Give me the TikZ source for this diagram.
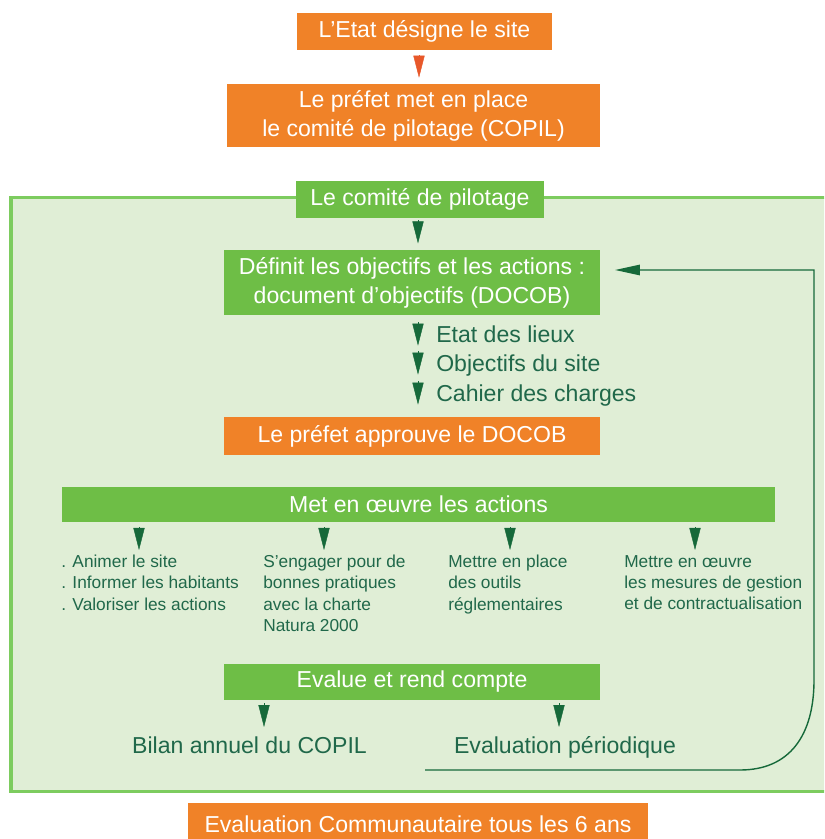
\documentclass[tikz,border=0pt]{standalone}
\usepackage{fontspec}
\setmainfont{Liberation Sans}
\usepackage{xcolor}
\usepackage{tikz}
\usetikzlibrary{arrows.meta}

\definecolor{orangebox}{RGB}{240,130,40}
\definecolor{greenbox}{RGB}{110,190,70}
\definecolor{greenback}{RGB}{224,238,214}
\definecolor{greenframe}{RGB}{125,204,95}
\definecolor{darkarrow}{RGB}{22,105,58}
\definecolor{darktext}{RGB}{32,104,74}
\definecolor{redarrow}{RGB}{232,88,42}

\tikzset{
  obox/.style={fill=orangebox, text=white, inner sep=0pt, align=center,
    font=\fontsize{16.4}{20.5}\selectfont},
  gbox/.style={fill=greenbox, text=white, inner sep=0pt, align=center,
    font=\fontsize{16.4}{20.5}\selectfont},
  item/.style={text=darktext, inner sep=0pt, font=\fontsize{16.4}{20.5}\selectfont},
  smalltext/.style={text=darktext, anchor=north west, align=left, inner sep=0pt,
    font=\fontsize{12.3}{15}\selectfont},
  wedge/.style={darkarrow, line width=0.3pt, -{Triangle[length=0.55cm,width=0.28cm]}},
  fbline/.style={darkarrow, line width=1pt, -{Triangle[length=0.62cm,width=0.26cm]}},
}

\begin{document}
\begin{tikzpicture}[x=0.025cm, y=-0.025cm]
  \clip (0,0) rectangle (824,839);
  \fill[white] (0,0) rectangle (824,839);

  % cadre du comite
  \draw[greenframe, fill=greenback, line width=0.075cm] (11,198) rectangle (880,791);

  \node[obox, minimum width=6.375cm, minimum height=0.925cm] (etat) at (424.5,31.5) {L'Etat désigne le site};
  \node[obox, minimum width=9.325cm, minimum height=1.575cm] (prefet) at (413.5,115.5)
    {Le préfet met en place\\le comité de pilotage (COPIL)};
  \node[gbox, minimum width=6.2cm, minimum height=0.925cm] (comite) at (420,199.5) {Le comité de pilotage};
  \node[gbox, minimum width=9.4cm, minimum height=1.6cm] (docob) at (412,282.5)
    {Définit les objectifs et les actions :\\document d'objectifs (DOCOB)};
  \node[obox, minimum width=9.4cm, minimum height=0.95cm] (approuve) at (412,436) {Le préfet approuve le DOCOB};
  \node[gbox, minimum width=17.825cm, minimum height=0.875cm] (actions) at (418.5,504.5) {Met en \oe uvre les actions};
  \node[gbox, minimum width=9.4cm, minimum height=0.9cm] (evalue) at (412,682) {Evalue et rend compte};
  \node[obox, minimum width=11.5cm, minimum height=1.05cm] (commun) at (418,824) {Evaluation Communautaire tous les 6 ans};

  \coordinate (ra) at (419,60);
  \coordinate (ca) at (418,230);
  \draw[wedge, redarrow, shorten <=0.125cm, shorten >=0.15cm] (etat.south -| ra) -- (prefet.north -| ra);
  \draw[wedge, shorten <=0.05cm, shorten >=0.17cm] (comite.south -| ca) -- (docob.north -| ca);

  % contenu du DOCOB
  \foreach \name/\y/\txt in {lieux/342/Etat des lieux, objectifs/371/Objectifs du site, cahier/401/Cahier des charges} {
    \node[item, anchor=base west] (\name) at (436,\y) {\txt};
    \draw[wedge] ([xshift=-0.45cm,yshift=0.49cm]\name.base west) -- ([xshift=-0.45cm,yshift=-0.09cm]\name.base west);
  }

  % actions
  \node[smalltext] (animer) at (61,555) {. Animer le site\\. Informer les habitants\\. Valoriser les actions};
  \node[smalltext] (charte) at (263,555) {S'engager pour de\\bonnes pratiques\\avec la charte\\Natura 2000};
  \node[smalltext] (outils) at (448,555) {Mettre en place\\des outils\\réglementaires};
  \node[smalltext] (mesures) at (624,555) {Mettre en \oe uvre\\les mesures de gestion\\et de contractualisation};
  \foreach \i/\x in {1/139,2/324,3/510,4/695} {
    \coordinate (m\i) at (\x,550);
    \draw[wedge, shorten <=0.125cm] (actions.south -| m\i) -- (m\i);
  }

  % evaluation
  \node[item, anchor=base] (bilan) at (249.5,753) {Bilan annuel du COPIL};
  \node[item, anchor=base] (periodique) at (565,753) {Evaluation périodique};
  \coordinate (b1) at (264,727);
  \coordinate (b2) at (559,727);
  \draw[wedge, shorten <=0.075cm] (evalue.south -| b1) -- (b1);
  \draw[wedge, shorten <=0.075cm] (evalue.south -| b2) -- (b2);

  % retour vers le DOCOB
  \coordinate (fbstart) at (425,770);
  \coordinate (fbend) at (615,270);
  \draw[fbline] (fbstart) -- (740,770) .. controls (790,770) and (814,735) .. (814,680) -- (814,270) -- (fbend);
\end{tikzpicture}
\end{document}
